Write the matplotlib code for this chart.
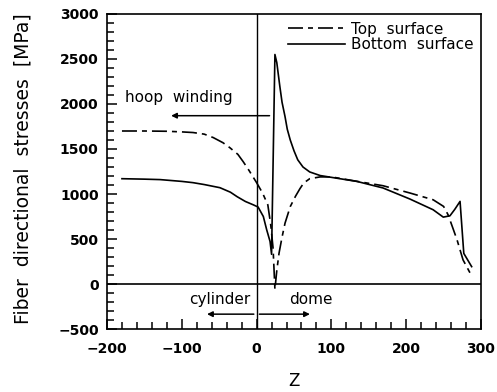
import numpy as np
import matplotlib
matplotlib.use("Agg")
import matplotlib.pyplot as plt
from matplotlib.ticker import MultipleLocator

# Top surface (dashed)
z_top = [-180, -150, -120, -100, -85, -70, -58, -45, -36, -25, -18, -10, 0, 8, 15,
         19, 22, 24.5, 27, 30, 34, 38, 45, 52, 58, 63, 71, 85, 100, 134, 169, 205,
         236, 250, 256, 262, 268, 276, 288]
s_top = [1700, 1700, 1697, 1690, 1683, 1665, 1627, 1570, 1516, 1440, 1360, 1260,
         1126, 1010, 880, 650, 400, -60, 150, 343, 520, 676, 860, 975, 1060, 1122,
         1170, 1190, 1190, 1141, 1092, 1011, 936, 862, 769, 630, 490, 268, 82]

# Bottom surface (solid)
z_bot = [-180, -150, -129, -100, -85, -70, -49, -35, -26, -15, -4.5, 2, 9, 13.5,
         18, 20, 24.5, 27, 29, 31, 34, 38, 41, 45, 50, 55, 62, 71, 85, 100, 134,
         169, 205, 236, 249.6, 258.5, 265, 272, 277, 287.5]
s_bot = [1170, 1165, 1160, 1140, 1126, 1105, 1070, 1020, 970, 917, 880, 855, 750,
         602, 472, 330, 2550, 2460, 2330, 2200, 2020, 1860, 1720, 1600, 1480, 1380,
         1300, 1245, 1205, 1185, 1140, 1067, 944, 825, 743, 758, 830, 918, 340, 193]

fig = plt.figure(figsize=(4.97, 3.92), dpi=100)
ax = fig.add_axes([0.2153, 0.1607, 0.7525, 0.8036])

ax.plot(z_top, s_top, color="black", lw=1.2, dashes=(9, 3, 3, 3), label="Top  surface")
ax.plot(z_bot, s_bot, color="black", lw=1.2, label="Bottom  surface")

ax.axhline(0, color="black", lw=1.2)
ax.axvline(0, color="black", lw=1.0)

ax.set_xlim(-200, 300)
ax.set_ylim(-500, 3000)
ax.xaxis.set_major_locator(MultipleLocator(100))
ax.xaxis.set_minor_locator(MultipleLocator(20))
ax.yaxis.set_major_locator(MultipleLocator(500))
ax.yaxis.set_minor_locator(MultipleLocator(100))
ax.tick_params(which="both", direction="in", top=False, right=False, width=1.1)
ax.tick_params(which="major", length=7)
ax.tick_params(which="minor", length=5)
ax.tick_params(axis="x", which="major", pad=9)
ax.tick_params(axis="y", which="major", pad=6)
for lab in ax.get_xticklabels() + ax.get_yticklabels():
    lab.set_fontsize(10)
    lab.set_fontweight("bold")
for sp in ax.spines.values():
    sp.set_linewidth(1.2)

ax.set_xlabel("Z", fontsize=12)
ax.xaxis.set_label_coords(0.5, -0.135)
ax.set_ylabel("Fiber  directional  stresses  [MPa]", fontsize=13.5)
ax.yaxis.set_label_coords(-0.2, 0.51)

# annotations
ax.annotate("", xy=(-118, 1870), xytext=(21, 1870),
            arrowprops=dict(arrowstyle="-|>", color="black", lw=1.1,
                            mutation_scale=8))
ax.text(-176, 2070, "hoop  winding", fontsize=11, va="center", ha="left")
ax.annotate("", xy=(-70, -335), xytext=(0, -335),
            arrowprops=dict(arrowstyle="-|>", color="black", lw=1.1,
                            mutation_scale=8))
ax.annotate("", xy=(75, -335), xytext=(0, -335),
            arrowprops=dict(arrowstyle="-|>", color="black", lw=1.1,
                            mutation_scale=8))
ax.text(-49, -225, "cylinder", fontsize=11, ha="center", va="baseline")
ax.text(72, -225, "dome", fontsize=11, ha="center", va="baseline")

ax.legend(loc="upper right", frameon=False, fontsize=11, handlelength=3.7,
          handletextpad=0.4, labelspacing=0.05, borderaxespad=0.2, borderpad=0.3)

fig.savefig("out.png", dpi=100)
